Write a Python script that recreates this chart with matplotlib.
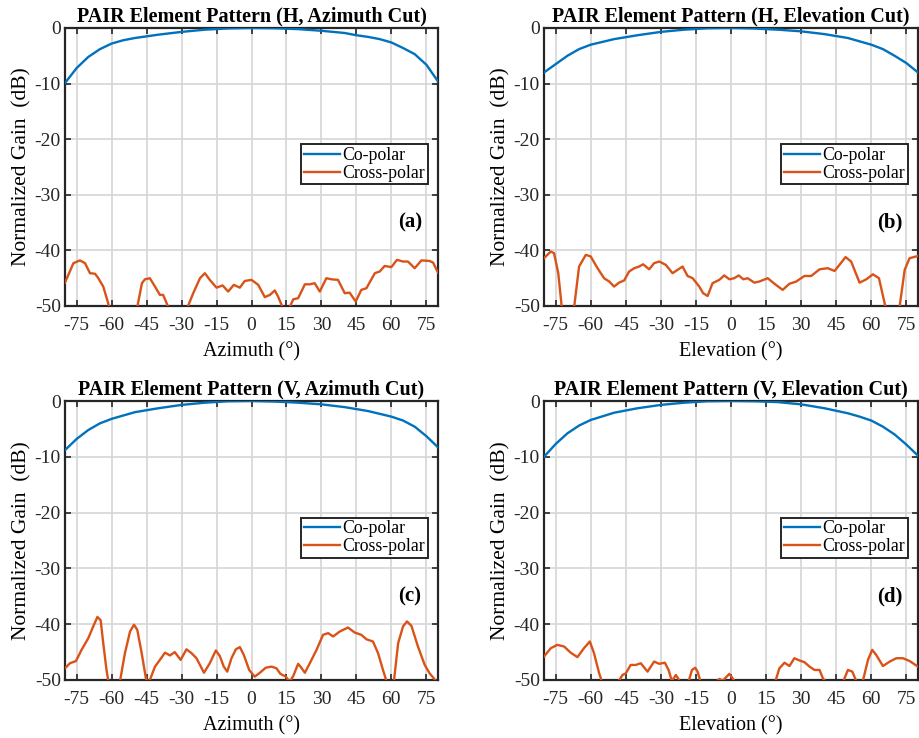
import matplotlib
matplotlib.use("Agg")
import numpy as np
import matplotlib.pyplot as plt

plt.rcParams['font.family'] = ['Liberation Serif', 'DejaVu Serif']
plt.rcParams['axes.unicode_minus'] = False

BLUE = "#0072BD"
ORANGE = "#D95319"

# ---- co-polar (deg, dB) ----
co_a_x = [-80, -75, -70, -65, -60, -55, -50, -45, -40, -30, -20, -10, 0, 10, 20, 30, 40, 45, 50, 55, 60, 65, 70, 75, 80]
co_a_y = [-9.9, -7.2, -5.2, -3.8, -2.8, -2.2, -1.8, -1.5, -1.2, -0.7, -0.3, -0.08, 0, -0.05, -0.2, -0.5, -0.9, -1.3, -1.6, -2.0, -2.6, -3.6, -4.7, -6.6, -9.6]

co_b_x = [-80, -75, -70, -65, -60, -50, -40, -30, -20, -10, 0, 10, 20, 30, 40, 50, 60, 65, 70, 75, 80]
co_b_y = [-8.0, -6.5, -5.0, -3.8, -3.0, -2.0, -1.3, -0.7, -0.3, -0.05, 0, -0.1, -0.3, -0.6, -1.1, -1.8, -3.0, -3.8, -5.0, -6.3, -8.0]

co_c_x = [-80, -75, -70, -65, -60, -50, -40, -30, -20, -10, 0, 10, 20, 30, 40, 50, 60, 65, 70, 75, 80]
co_c_y = [-8.8, -6.8, -5.2, -4.0, -3.2, -2.0, -1.3, -0.7, -0.3, -0.05, 0, -0.1, -0.3, -0.6, -1.1, -1.8, -2.8, -3.5, -4.6, -6.3, -8.3]

co_d_x = [-80, -75, -70, -65, -60, -50, -40, -30, -20, -10, 0, 10, 20, 30, 40, 50, 55, 60, 65, 70, 75, 80]
co_d_y = [-10.0, -7.7, -5.8, -4.4, -3.4, -2.1, -1.3, -0.7, -0.3, -0.05, 0, -0.05, -0.2, -0.6, -1.3, -2.2, -2.8, -3.5, -4.6, -6.0, -7.8, -9.8]

# ---- cross-polar (deg, dB) ----
x_a_x = [-80, -76.4, -73.6, -71.4, -69.3, -67.1, -65.7, -63.6, -62.1, -61, -58, -52, -49, -47, -45.7, -43.6, -41.4,
         -39.3, -37.9, -35.7, -32, -29, -27.4, -25, -22.1, -20, -17.9, -15, -12.4, -10, -7.6, -5, -2.9, 0, 2.9,
         5.7, 7.9, 10, 11.4, 13.3, 15, 16.4, 17.9, 20, 22.9, 25, 27.1, 29.3, 32.1, 34.3, 37.1, 40, 42.1, 44.7,
         47.1, 49.3, 52.9, 55, 57.1, 60, 62.4, 65, 67.1, 70, 72.9, 76.4, 77.9, 80]
x_a_y = [-45.8, -42.3, -41.8, -42.3, -44.1, -44.2, -45.0, -46.5, -48.6, -50.2, -55, -55, -50.2, -45.9, -45.2, -45.0, -46.5,
         -48.0, -48.0, -50.2, -55, -55, -50.2, -47.7, -45.0, -44.1, -45.3, -46.7, -46.3, -47.4, -46.2, -46.7, -45.5, -45.3, -46.2,
         -48.4, -48.0, -47.2, -48.3, -50.2, -52, -50.2, -48.8, -48.6, -46.1, -46.1, -45.9, -47.4, -45.0, -45.2, -45.3, -47.7, -47.6, -49.2,
         -47.1, -46.8, -44.1, -43.8, -42.8, -43.0, -41.7, -42.0, -42.0, -43.2, -41.8, -41.9, -42.2, -44.0]

x_b_x = [-80, -77.1, -75.7, -73.9, -72.4, -70, -67.1, -65, -62.1, -60, -57.1, -54.3, -52.1, -50, -47.9, -45.7, -43.6,
         -41.4, -39.3, -37.6, -35, -32.9, -30.7, -27.9, -25, -20.7, -18.6, -16.4, -13.6, -11.9, -10, -7.9, -5, -2.9,
         -0.7, 1.4, 3.3, 5.3, 7.1, 10, 12.1, 15.7, 18.6, 22.1, 25, 27.9, 31.4, 34.3, 37.9, 41.4, 44.3, 46.4, 49,
         51.4, 55, 57.9, 60.7, 63.3, 66.1, 69, 72.1, 74.3, 76.4, 80]
x_b_y = [-41.4, -40.2, -40.5, -44.1, -50.2, -56, -50.2, -42.9, -40.8, -41.1, -43.2, -45.0, -45.6, -46.5, -45.8, -45.4, -43.8,
         -43.2, -42.9, -42.5, -43.4, -42.3, -42.0, -42.6, -44.1, -42.9, -44.6, -45.0, -46.5, -47.7, -48.2, -45.9, -45.3, -44.5,
         -45.2, -45.0, -44.5, -45.2, -45.0, -45.8, -45.6, -45.0, -46.0, -47.1, -46.0, -45.6, -44.6, -44.6, -43.4, -43.2, -43.7, -42.6, -41.2,
         -42.0, -45.8, -45.2, -44.3, -45.0, -50.2, -56, -50.2, -43.5, -41.4, -41.0]

x_c_x = [-80, -77.9, -75.3, -72.9, -70, -67.9, -66.1, -64.7, -63.6, -62.1, -61.4, -59, -56.4, -54.3, -52.1, -50.4, -49,
         -47.1, -45.3, -44.5, -43.6, -41.4, -39.3, -37.1, -35, -32.9, -30.4, -27.9, -25.7, -23.6, -22.1, -20.4, -17.9,
         -15.3, -13.6, -11.9, -10.4, -8.6, -6.7, -5, -3.3, -1, 1.4, 3.6, 6.1, 8.6, 10.7, 12.4, 14.7, 16.4, 17.9, 20,
         21, 22.9, 25, 27.9, 30.7, 32.9, 35, 37.9, 41.4, 44.3, 47.1, 49.3, 52.1, 54.3, 56.4, 57.9, 59.5, 61.1, 62.9,
         65, 66.7, 68.6, 71.4, 74.3, 76.4, 79, 80]
x_c_y = [-47.9, -47.0, -46.6, -44.6, -42.5, -40.4, -38.7, -39.3, -43.4, -48.5, -50.2, -56, -50.2, -45.2, -41.3, -40.1, -41.0,
         -45.2, -49.7, -50.6, -50.0, -47.6, -46.4, -45.1, -45.6, -45.0, -46.4, -44.5, -45.2, -46.1, -47.3, -48.7, -47.0,
         -44.7, -45.7, -47.6, -48.5, -46.1, -44.5, -44.1, -45.5, -48.2, -49.4, -48.7, -47.8, -47.6, -47.9, -48.9, -49.4, -50.3, -49.3, -47.1,
         -47.6, -48.7, -47.0, -44.6, -41.9, -41.6, -42.2, -41.3, -40.6, -41.5, -41.9, -42.7, -43.1, -45.2, -48.2, -50.2, -53, -50.2, -43.4,
         -40.4, -39.5, -40.3, -44.0, -47.3, -48.8, -50.1, -50.6]

x_d_x = [-80, -77.1, -74.3, -71.4, -68.6, -65.7, -62.9, -60.4, -58.6, -56.4, -55.3, -52, -48.1, -46.4, -45, -42.9, -40.7,
         -38.6, -35.7, -32.9, -30.7, -28.3, -26.7, -25.3, -23.6, -21.9, -20, -18.1, -16.7, -15.3, -14.3, -13.1, -10,
         -6, -5, -3.5, -0.7, 0.7, 1.5, 10, 19, 20.7, 22.9, 25, 27.1, 29.3, 31.4, 33.6, 35.7, 37.9, 39.3, 40.5, 44,
         48.1, 50, 51.9, 53.6, 55, 56.4, 58.6, 60.4, 62.1, 65, 67.9, 70.7, 73.6, 76.4, 80]
x_d_y = [-45.8, -44.3, -43.7, -44.0, -45.1, -45.9, -44.3, -43.1, -45.2, -48.8, -50.2, -56, -50.2, -49.1, -48.8, -47.3, -47.3,
         -47.0, -48.5, -46.7, -47.1, -46.9, -48.2, -50.2, -49.1, -50.2, -53, -50.2, -48.2, -47.8, -48.5, -50.2, -54,
         -50.2, -49.8, -50.1, -48.9, -49.7, -50.2, -56, -50.2, -47.9, -46.9, -47.5, -46.1, -46.5, -46.8, -47.6, -48.2, -48.2, -49.7, -50.3, -53,
         -50.2, -48.2, -48.5, -50.2, -52, -50.2, -46.4, -44.6, -45.5, -47.5, -46.7, -46.1, -46.1, -46.6, -47.6]

panels = [
    ("PAIR Element Pattern (H, Azimuth Cut)", "Azimuth (°)", "(a)", co_a_x, co_a_y, x_a_x, x_a_y),
    ("PAIR Element Pattern (H, Elevation Cut)", "Elevation (°)", "(b)", co_b_x, co_b_y, x_b_x, x_b_y),
    ("PAIR Element Pattern (V, Azimuth Cut)", "Azimuth (°)", "(c)", co_c_x, co_c_y, x_c_x, x_c_y),
    ("PAIR Element Pattern (V, Elevation Cut)", "Elevation (°)", "(d)", co_d_x, co_d_y, x_d_x, x_d_y),
]

# axes boxes in figure fractions (left, bottom, width, height)
boxes = [
    (65 / 919, 1 - 306 / 738, 373 / 919, 278 / 738),
    (544 / 919, 1 - 306 / 738, 374 / 919, 278 / 738),
    (65 / 919, 1 - 680 / 738, 373 / 919, 279 / 738),
    (544 / 919, 1 - 680 / 738, 374 / 919, 279 / 738),
]

fig = plt.figure(figsize=(9.19, 7.38), dpi=100)

for (title, xlabel, tag, cx, cy, xx, xy), box in zip(panels, boxes):
    ax = fig.add_axes(box)
    ax.plot(cx, cy, color=BLUE, lw=1.7, label="Co-polar", zorder=3)
    ax.plot(xx, xy, color=ORANGE, lw=1.7, label="Cross-polar", zorder=3)
    ax.set_xlim(-80, 80)
    ax.set_ylim(-50, 0)
    ax.set_xticks(np.arange(-75, 76, 15))
    ax.set_yticks(np.arange(-50, 1, 10))
    ax.grid(True, color="#d6d6d6", lw=1.2, zorder=0)
    ax.tick_params(direction="in", top=True, right=True, length=4, width=1.2,
                   labelsize=14, colors="#262626")
    ax.tick_params(axis="x", pad=8)
    ax.tick_params(axis="y", pad=3)
    for s in ax.spines.values():
        s.set_linewidth(1.6)
        s.set_color("#262626")
    ax.set_title(title, fontsize=14.5, fontweight="bold", pad=5)
    ax.set_xlabel(xlabel, fontsize=14.5, labelpad=6)
    ax.set_ylabel("Normalized Gain  (dB)", fontsize=15.5, labelpad=2)
    leg = ax.legend(loc="upper right", bbox_to_anchor=(0.972, 0.582), fontsize=12.8,
                    fancybox=False, framealpha=1, edgecolor="#262626",
                    borderpad=0.15, handlelength=2.0, handletextpad=0.15,
                    labelspacing=0.05, borderaxespad=0)
    leg.get_frame().set_linewidth(1.4)
    ax.text(0.925, 0.30, tag, transform=ax.transAxes, fontsize=15,
            fontweight="bold", ha="center", va="center")

fig.savefig("out.png", dpi=100)
